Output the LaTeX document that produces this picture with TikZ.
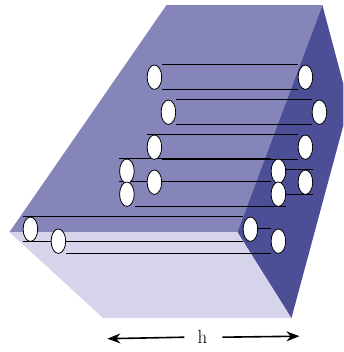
\documentclass[tikz,border=0pt]{standalone}
\usepackage{tikz}
\usepackage{xcolor}
\usetikzlibrary{shapes.geometric,arrows.meta,backgrounds}
\definecolor{backface}{HTML}{8585BA}
\definecolor{sideface}{HTML}{4D4F96}
\definecolor{floorface}{HTML}{D6D4EB}
\begin{document}
\begin{tikzpicture}[x=1pt, y=-1pt,
    hole/.style={draw=black, fill=white, ellipse, line width=0.8pt, inner sep=0pt, minimum width=14.6pt, minimum height=24.4pt},
    rail/.style={black, line width=0.8pt},
    dimline/.style={-{Stealth[length=13pt,width=10pt]}, line width=1.6pt}]
    \useasboundingbox (-0.4,-0.2) rectangle (342.6,351.8);

    % Holes, front and rear pairs
    \node[hole] (a1) at (154,77) {};
    \node[hole] (a2) at (305,77) {};
    \node[hole] (b1) at (168,112) {};
    \node[hole] (b2) at (319,112) {};
    \node[hole] (c1) at (154,147) {};
    \node[hole] (c2) at (305,147) {};
    \node[hole] (d1) at (126.5,171) {};
    \node[hole] (d2) at (278,171) {};
    \node[hole] (e1) at (126.5,194) {};
    \node[hole] (e2) at (278,194) {};
    \node[hole] (f1) at (154,182) {};
    \node[hole] (f2) at (305,182) {};
    \node[hole] (g1) at (30,229) {};
    \node[hole] (g2) at (250,229) {};
    \node[hole] (k1) at (58,241) {};
    \node[hole] (k2) at (278,241) {};

    \begin{scope}[on background layer]
    % Faces
    \fill[backface] (166,5) -- (322,5) -- (237,232) -- (9,232) -- cycle;
    \fill[sideface] (322,5) -- (343,84) -- (343,125) -- (291,318) -- (237,232) -- cycle;
    \fill[floorface] (9,232) -- (237,232) -- (291,318) -- (103,318) -- cycle;

    % Rails
    \draw[rail] (a1.north -| a1.east) -- (a2.north -| a2.west);
    \draw[rail] (a1.south -| a1.east) -- (a2.south -| a2.west);
    \draw[rail] (b1.north -| b1.east) -- (b2.north -| b2.west);
    \draw[rail] (b1.south -| b1.east) -- (b2.south -| b2.west);
    \draw[rail] (c1.north -| c1.west) -- (c2.north -| c2.west);
    \draw[rail] (c1.south -| c1.east) -- (c2.south -| c2.west);
    \draw[rail] (d1.north -| d1.west) -- (d2.north -| d2.west);
    \draw[rail] (e1.north -| e1.west) -- (e2.north -| e2.west);
    \draw[rail] (e1.south -| e1.east) -- (e2.south -| e2.east);
    \draw[rail] (d2.east |- f2.north) -- (f2.north -| f2.east);
    \draw[rail] (e2.east |- f2.south) -- (f2.south -| f2.east);
    \draw[rail] (g1.north -| g1.west) -- (g2.north -| g2.west);
    \draw[rail] (g1.south -| g1.west) -- (g2.south -| g2.west);
    \draw[rail] (g2.east |- k2.north) -- (k2.north -| k2.west);
    \draw[rail] (k1.south -| k1.east) -- (k2.south -| k2.west);
    \end{scope}

    % Width mark
    \node[font=\fontsize{19}{22}\selectfont, inner sep=0pt] (hmark) at (202,337) {h};
    \coordinate (hleft) at (184,337);
    \coordinate (hright) at (222,337);
    \coordinate (leftend) at (107,338.5);
    \coordinate (rightend) at (299,336);
    \draw[dimline] (hleft) -- (leftend);
    \draw[dimline] (hright) -- (rightend);
\end{tikzpicture}
\end{document}
